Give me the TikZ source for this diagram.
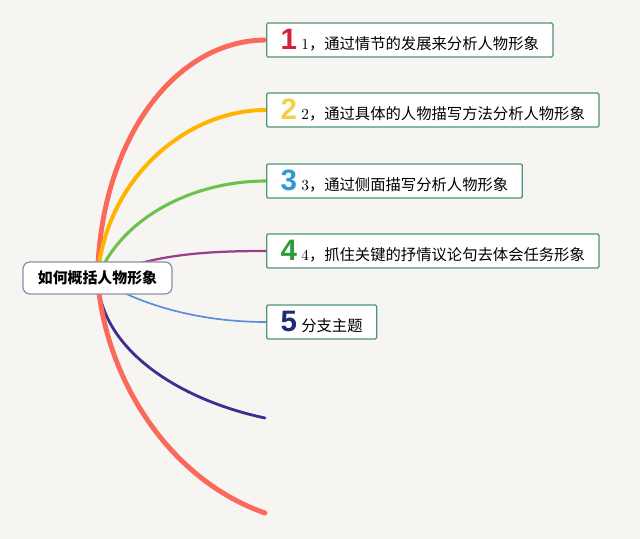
\documentclass[tikz,border=0pt]{standalone}
\usepackage{fontspec}
\usetikzlibrary{backgrounds}
\newfontfamily\cjk{Noto Sans CJK SC}
\newfontfamily\numfont{Liberation Sans}
\definecolor{canvas}{HTML}{F6F5F2}
\definecolor{boxline}{HTML}{4E9478}
\definecolor{rootline}{HTML}{8E8EA8}
\definecolor{brred}{HTML}{FA6A5A}
\definecolor{brorange}{HTML}{FFB400}
\definecolor{brgreen}{HTML}{6CC24A}
\definecolor{brpurple}{HTML}{9A3D8C}
\definecolor{brblue}{HTML}{5B8ED8}
\definecolor{brnavy}{HTML}{3B2F8F}
\definecolor{numred}{HTML}{D81F3A}
\definecolor{numyellow}{HTML}{F2D045}
\definecolor{numblue}{HTML}{2C9AD6}
\definecolor{numgreen}{HTML}{2A9C3A}
\definecolor{numnavy}{HTML}{1E2B7A}
\newcommand{\bignum}[2]{{\numfont\bfseries\fontsize{21}{21}\selectfont\textcolor{#1}{#2}}\hspace{3pt}}

\begin{document}
\begin{tikzpicture}[x=0.025cm,y=-0.025cm,
  rootbox/.style={rounded corners=5pt,draw=rootline,line width=0.9pt,fill=white,
    minimum height=32*0.7113pt,minimum width=149*0.7113pt,inner sep=2pt,
    font=\cjk\bfseries\fontsize{10.6}{12}\selectfont},
  topic/.style={anchor=west,rounded corners=1pt,draw=boxline,line width=0.9pt,fill=white,
    minimum height=34*0.7113pt,inner xsep=10pt,inner ysep=1pt,
    font=\fontsize{10.9}{12}\selectfont},
  branch/.style={line cap=round}]

\useasboundingbox (0,0) rectangle (640,539);

\node[rootbox] (root) at (97.5,278) {如何概括人物形象};

\node[topic] (b1) at (266,40) {\bignum{numred}{1}1\cjk，通过情节的发展来分析人物形象};
\node[topic] (b2) at (266,110) {\bignum{numyellow}{2}2\cjk，通过具体的人物描写方法分析人物形象};
\node[topic] (b3) at (266,181) {\bignum{numblue}{3}3\cjk，通过侧面描写分析人物形象};
\node[topic] (b4) at (266,251) {\bignum{numgreen}{4}4\cjk，抓住关键的抒情议论句去体会任务形象};
\node[topic] (b5) at (266,322) {\bignum{numnavy}{5}\cjk 分支主题};
\coordinate (e6) at (265,418);
\coordinate (e7) at (265,513);

\begin{scope}[on background layer]
\fill[canvas] (0,0) rectangle (640,539);
\draw[branch,brred,line width=3.5pt] (root.center) .. controls (100,140) and (175,40) .. (b1.west);
\draw[branch,brorange,line width=2.8pt] (root.center) .. controls (105,180) and (185,110) .. (b2.west);
\draw[branch,brgreen,line width=2.2pt] (root.center) .. controls (120,220) and (190,181) .. (b3.west);
\draw[branch,brpurple,line width=1.6pt] (root.center) .. controls (150,255) and (200,251) .. (b4.west);
\draw[branch,brblue,line width=1.2pt] (root.center) .. controls (130,300) and (190,322) .. (b5.west);
\draw[branch,brnavy,line width=2pt] (root.center) .. controls (100,350) and (180,400) .. (e6);
\draw[branch,brred,line width=3.5pt] (root.center) .. controls (105,380) and (170,480) .. (e7);
\end{scope}
\end{tikzpicture}
\end{document}
